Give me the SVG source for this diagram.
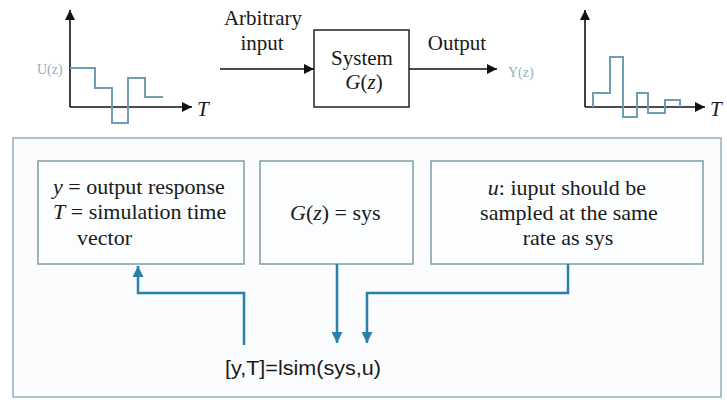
<svg xmlns="http://www.w3.org/2000/svg" width="727" height="400" viewBox="0 0 727 400">
<defs>
<marker id="blk" viewBox="0 0 10 10" refX="10" refY="5" markerWidth="10" markerHeight="10" markerUnits="userSpaceOnUse" orient="auto"><path d="M0,0 L10,5 L0,10 z" fill="#111"/></marker>
<marker id="blu" viewBox="0 0 10 10" refX="10" refY="5" markerWidth="11" markerHeight="11" markerUnits="userSpaceOnUse" orient="auto"><path d="M0,0 L10,5 L0,10 z" fill="#2b80aa"/></marker>
<style>
.ser{font-family:"Liberation Serif","Times New Roman",serif;fill:#1a1a1a;font-size:22px}
.top{font-size:21px}
.it{font-style:italic}
.axis{stroke:#111;stroke-width:1.6;fill:none}
.sig{stroke:#6f9db4;stroke-width:2;fill:none}
.box{fill:#fcfdfe;stroke:#7d9ca8;stroke-width:1.5}
.con{stroke:#2b80aa;stroke-width:2.5;fill:none}
.lbl{font-family:"Liberation Serif",serif;fill:#8fb0c4;font-size:14px}
</style>
</defs>
<rect x="0" y="0" width="727" height="400" fill="#ffffff"/>

<g id="input-plot">
<path class="axis" d="M70,107 V10" marker-end="url(#blk)"/>
<path class="axis" d="M70,107 H192" marker-end="url(#blk)"/>
<path class="sig" d="M70,68 H95 V88 H112 V123 H128 V78 H145 V97 H163"/>
<text class="lbl" x="37" y="74">U(z)</text>
<text class="ser top it" x="197" y="116">T</text>
</g>

<g id="system">
<rect x="314" y="30" width="95" height="77" fill="#fff" stroke="#222" stroke-width="1.5"/>
<text class="ser top" x="362" y="65" text-anchor="middle">System</text>
<text class="ser top" x="364" y="89" text-anchor="middle"><tspan class="it">G</tspan>(<tspan class="it">z</tspan>)</text>
</g>

<g id="io-labels">
<text class="ser top" x="263" y="25" text-anchor="middle">Arbitrary</text>
<text class="ser top" x="262" y="50" text-anchor="middle">input</text>
<text class="ser top" x="457" y="50" text-anchor="middle">Output</text>
<text class="lbl" x="508" y="77">Y(z)</text>
</g>

<g id="output-plot">
<path class="axis" d="M585,107 V10" marker-end="url(#blk)"/>
<path class="axis" d="M585,107 H705" marker-end="url(#blk)"/>
<path class="sig" d="M593,107 V93 H610 V57 H623 V117 H637 V93 H648 V113 H665 V100 H680 V107"/>
<text class="ser top it" x="710" y="116">T</text>
</g>

<g id="top-arrows">
<path class="axis" d="M220,69 H314" marker-end="url(#blk)"/>
<path class="axis" d="M409,69 H497" marker-end="url(#blk)"/>
</g>

<g id="frame">
<rect x="13" y="138" width="708" height="259" fill="#fafcfd" stroke="#90b0bc" stroke-width="1.5"/>
</g>

<g id="box-output">
<rect class="box" x="38" y="161" width="206" height="103"/>
<text class="ser" x="53" y="194"><tspan class="it">y</tspan> = output response</text>
<text class="ser" x="53" y="219"><tspan class="it">T</tspan> = simulation time</text>
<text class="ser" x="77" y="245">vector</text>
</g>

<g id="box-system">
<rect class="box" x="260" y="161" width="153" height="103"/>
<text class="ser" x="290" y="220"><tspan class="it">G</tspan>(<tspan class="it">z</tspan>) = sys</text>
</g>

<g id="box-input">
<rect class="box" x="431" y="161" width="272" height="103"/>
<text class="ser" x="567" y="195" text-anchor="middle"><tspan class="it">u</tspan>: iuput should be</text>
<text class="ser" x="569" y="220" text-anchor="middle">sampled at the same</text>
<text class="ser" x="568" y="245" text-anchor="middle">rate as sys</text>
</g>

<g id="command">
<text x="303" y="375" text-anchor="middle" font-family="'Liberation Sans',Arial,sans-serif" font-size="21" fill="#1a1a1a" textLength="156" lengthAdjust="spacingAndGlyphs">[y,T]=lsim(sys,u)</text>
</g>

<g id="connectors">
<path class="con" d="M244,345 V293 H138 V266" marker-end="url(#blu)"/>
<path class="con" d="M337,264 V343" marker-end="url(#blu)"/>
<path class="con" d="M568,264 V293 H367 V343" marker-end="url(#blu)"/>
</g>
</svg>
